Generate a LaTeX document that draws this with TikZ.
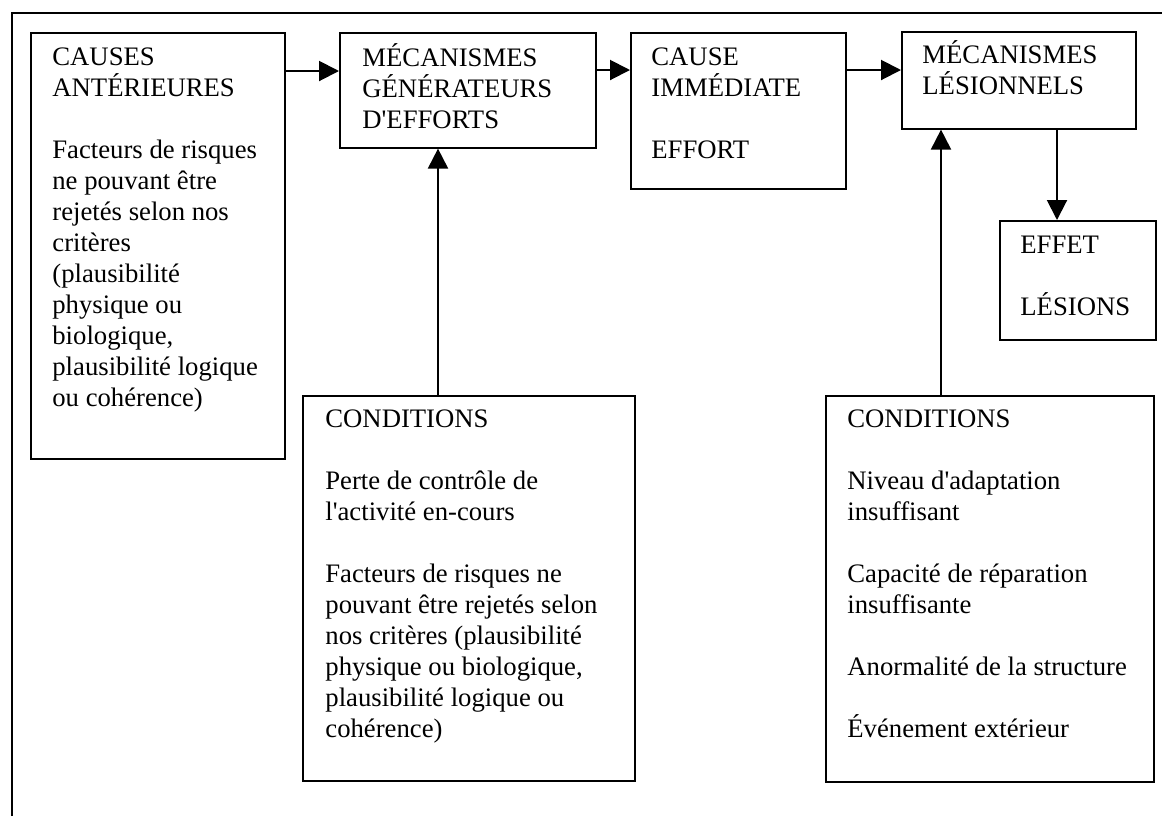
\documentclass[tikz,border=0pt]{standalone}
\usepackage{fontspec}
\setmainfont{Liberation Serif}
\usetikzlibrary{arrows.meta, positioning}
\tikzstyle{block} = [rectangle, draw, line width=0.8pt, anchor=north west, inner sep=0pt]
\tikzstyle{blocktext} = [inner sep=0pt, align=left, font=\fontsize{13.35pt}{15.5pt}\selectfont]
\tikzstyle{arrow} = [line width=1pt, -{Triangle[length=10pt,width=10pt]}]
\newcommand{\firstline}{\rule{0pt}{12.5pt}}
\newcommand{\apos}{\textquotesingle}

\begin{document}
\begin{tikzpicture}[x=0.5pt, y=-0.5pt]
        \useasboundingbox (0,0) rectangle (1162,816);

        % Outer frame (cut off at right and bottom)
        \draw [line width=0.7pt] (12,816) -- (12,13) -- (1162,13);

        % Boxes
        \node (causes) [block, minimum width=127pt, minimum height=213pt] at (30,32) {};
        \node (meca) [block, minimum width=128pt, minimum height=57.5pt] at (339,32) {};
        \node (cause) [block, minimum width=107.5pt, minimum height=78pt] at (630,32) {};
        \node (lesion) [block, minimum width=117pt, minimum height=48.5pt] at (901,31) {};
        \node (effet) [block, minimum width=78pt, minimum height=59.5pt] at (999,220) {};
        \node (condA) [block, minimum width=166pt, minimum height=192.5pt] at (302,395) {};
        \node (condB) [block, minimum width=164pt, minimum height=193pt] at (825,395) {};

        % Texts
        \node (causestxt) [blocktext, below right=4pt and 11pt of causes.north west]
            {\firstline CAUSES\\ANTÉRIEURES\\[15.5pt]Facteurs de risques\\ne pouvant être\\rejetés selon nos\\critères\\(plausibilité\\physique ou\\biologique,\\plausibilité logique\\ou cohérence)};
        \node (mecatxt) [blocktext, below right=4.5pt and 11.5pt of meca.north west]
            {\firstline MÉCANISMES\\GÉNÉRATEURS\\D\apos EFFORTS};
        \node (causetxt) [blocktext, below right=4pt and 10.5pt of cause.north west]
            {\firstline CAUSE\\IMMÉDIATE\\[15.5pt]EFFORT};
        \node (lesiontxt) [blocktext, below right=3.5pt and 10.5pt of lesion.north west]
            {\firstline MÉCANISMES\\LÉSIONNELS};
        \node (effettxt) [blocktext, below right=4pt and 10.5pt of effet.north west]
            {\firstline EFFET\\[15.5pt]LÉSIONS};
        \node (condAtxt) [blocktext, below right=3.5pt and 11.5pt of condA.north west]
            {\firstline CONDITIONS\\[15.5pt]Perte de contrôle de\\l\apos activité en-cours\\[15.5pt]Facteurs de risques ne\\pouvant être rejetés selon\\nos critères (plausibilité\\physique ou biologique,\\plausibilité logique ou\\cohérence)};
        \node (condBtxt) [blocktext, below right=3.5pt and 11pt of condB.north west]
            {\firstline CONDITIONS\\[15.5pt]Niveau d\apos adaptation\\insuffisant\\[15.5pt]Capacité de réparation\\insuffisante\\[15.5pt]Anormalité de la structure\\[15.5pt]Événement extérieur};

        % Horizontal chain
        \draw [arrow] ([yshift=-19.5pt]causes.north east) -- ([yshift=-19.5pt]causes.north east -| meca.west);
        \draw [arrow] ([yshift=-19pt]meca.north east) -- ([yshift=-19pt]meca.north east -| cause.west);
        \draw [arrow] ([yshift=-19pt]cause.north east) -- ([yshift=-19pt]cause.north east -| lesion.west);

        % Conditions up into the mechanisms
        \draw [arrow] ([xshift=68pt]condA.north west) -- ([xshift=68pt]condA.north west |- meca.south);
        \draw [arrow] ([xshift=58pt]condB.north west) -- ([xshift=58pt]condB.north west |- lesion.south);

        % Effect
        \draw [arrow] ([xshift=78pt]lesion.south west) -- ([xshift=78pt]lesion.south west |- effet.north);

    \end{tikzpicture}
\end{document}
